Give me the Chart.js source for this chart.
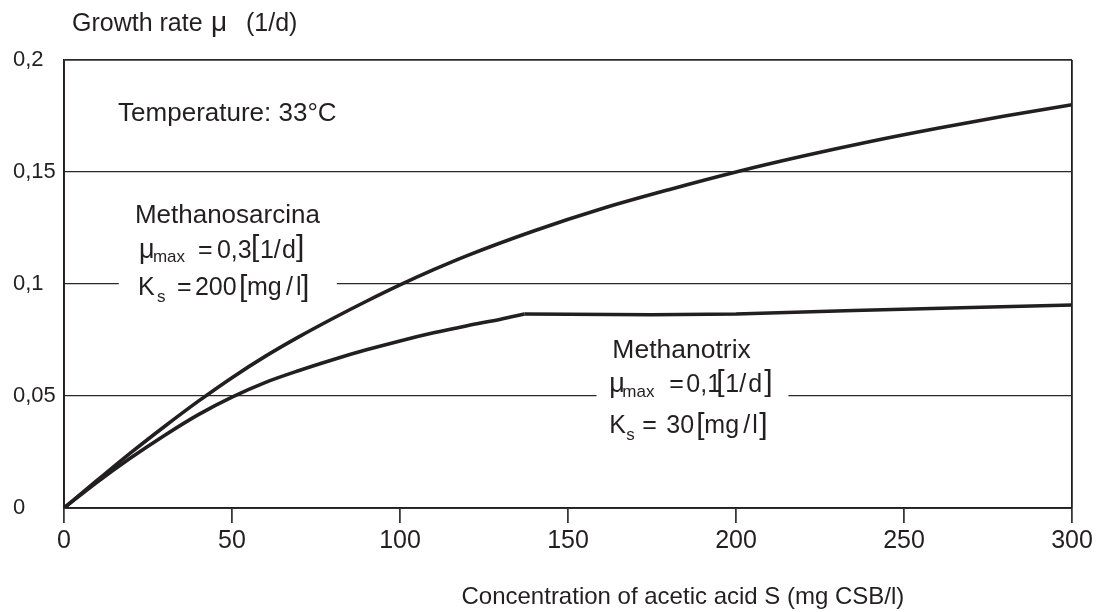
<!DOCTYPE html>
<html>
<head>
<meta charset="utf-8">
<script src="https://cdn.jsdelivr.net/npm/chart.js@4.4.1/dist/chart.umd.min.js"></script>
<style>
  html, body { margin: 0; padding: 0; background: #ffffff; }
  #wrap { width: 1096px; height: 612px; position: relative; }
</style>
</head>
<body>
<div id="wrap"><canvas id="growth"></canvas></div>
<script>
// Substrate concentration S (mg CSB/l) and growth rate mu (1/d)
const sarcinaS  = [0, 10, 20, 30, 40, 50, 60, 70, 80, 90, 100, 110, 120, 140, 160, 180, 200, 220, 240, 260, 280, 300];
const sarcinaMu = [0, 0.0125, 0.0248, 0.0365, 0.0477, 0.0582, 0.0678, 0.0765, 0.0846, 0.0923, 0.0996,
                   0.1064, 0.1127, 0.1238, 0.1336, 0.1421, 0.1500, 0.1571, 0.1636, 0.1695, 0.1750, 0.1800];

const trixS  = [0, 10, 20, 30, 40, 50, 60, 70, 80, 90, 100, 110, 120, 130, 137, 150, 175, 200, 235, 270, 300];
const trixMu = [0, 0.0117, 0.0225, 0.0325, 0.0417, 0.0495, 0.0561, 0.0614, 0.0662, 0.0706, 0.0746,
                0.0782, 0.0814, 0.0843, 0.0866, 0.0865, 0.0863, 0.0866, 0.0882, 0.0895, 0.0906];
// the Methanotrix curve bends sharply onto its plateau here
const trixKneeS = 137;

const xTicks = [0, 50, 100, 150, 200, 250, 300];
const yTicks = [0, 0.05, 0.1, 0.15, 0.2];
const yTickLabels = ['0', '0,05', '0,1', '0,15', '0,2'];

const INK = '#231f20';
const FONT = '"Liberation Sans", Arial, Helvetica, sans-serif';

function pairs(xs, ys) { return xs.map((x, i) => ({ x: x, y: ys[i] })); }
const knee = trixS.indexOf(trixKneeS);
const trixRise = pairs(trixS.slice(0, knee + 1), trixMu.slice(0, knee + 1));
const trixPlateau = pairs(trixS.slice(knee), trixMu.slice(knee));

// Text runs: [text, dx, dy, size]
function drawRuns(ctx, x0, y0, runs) {
  for (const r of runs) {
    ctx.font = r[3] + 'px ' + FONT;
    ctx.fillText(r[0], x0 + r[1], y0 + r[2]);
  }
}

const labelsPlugin = {
  id: 'labels',
  beforeDatasetsDraw(chart) {
    const ctx = chart.ctx;
    const xs = chart.scales.x, ys = chart.scales.y;
    ctx.save();
    ctx.textAlign = 'left';
    ctx.textBaseline = 'alphabetic';

    // background panels behind the parameter blocks
    ctx.fillStyle = '#ffffff';
    const aL = xs.getPixelForValue(16.3), aR = xs.getPixelForValue(81.2);
    const aT = ys.getPixelForValue(0.139), aB = ys.getPixelForValue(0.088);
    ctx.fillRect(aL, aT, aR - aL, aB - aT);
    const bL = xs.getPixelForValue(158.5), bR = xs.getPixelForValue(215.6);
    const bT = ys.getPixelForValue(0.0785), bB = ys.getPixelForValue(0.0267);
    ctx.fillRect(bL, bT, bR - bL, bB - bT);

    ctx.fillStyle = INK;
    // temperature note
    ctx.font = '26px ' + FONT;
    ctx.fillText('Temperature: 33°C', xs.getPixelForValue(16.1), ys.getPixelForValue(0.1728));

    // Methanosarcina
    const ax = xs.getPixelForValue(21.1), ay = ys.getPixelForValue(0.1272);
    drawRuns(ctx, ax, ay, [
      ['Methanosarcina', 0, 0, 26],
      ['μ', 4, 35, 27], ['max', 18, 39, 17], ['=', 63, 35, 25], ['0,3', 82, 35, 25],
      ['[', 116, 33, 30], ['1/', 125, 35, 25], ['d', 147, 35, 25], [']', 161, 33, 30],
      ['K', 3, 72, 25], ['s', 22, 79, 17], ['=', 42, 72, 25], ['200', 60, 72, 25],
      ['[', 104, 73, 30], ['mg', 112, 72, 25], ['/', 151, 72, 25], ['l', 161, 72, 25], [']', 166, 73, 30]
    ]);

    // Methanotrix
    const bx = xs.getPixelForValue(163.2), by = ys.getPixelForValue(0.0668);
    drawRuns(ctx, bx, by, [
      ['Methanotrix', 0, 0, 26.5],
      ['μ', -3, 34, 27], ['max', 10, 39, 17], ['=', 57, 34, 25], ['0,1', 74, 34, 25],
      ['[', 104, 33, 30], ['1/', 113, 34, 25], ['d', 136, 34, 25], [']', 152, 33, 30],
      ['K', -3, 75, 25], ['s', 14, 82, 17], ['=', 30, 75, 25], ['30', 54, 75, 25],
      ['[', 84, 76, 30], ['mg', 92, 75, 25], ['/', 131, 75, 25], ['l', 140, 75, 25], [']', 147, 76, 30]
    ]);

    // axis titles
    ctx.font = '25px ' + FONT;
    ctx.fillText('Growth rate', 72, 31);
    ctx.fillText('(1/d)', 246, 31);
    ctx.font = '28px ' + FONT;
    ctx.fillText('μ', 211, 31);
    ctx.font = '24px ' + FONT;
    ctx.fillText('Concentration of acetic acid S (mg CSB/l)', xs.getPixelForValue(118.3), 604);
    ctx.restore();
  }
};

new Chart(document.getElementById('growth'), {
  type: 'line',
  data: {
    datasets: [
      {
        label: 'Methanosarcina',
        data: pairs(sarcinaS, sarcinaMu),
        borderColor: INK, borderWidth: 3.6, pointRadius: 0,
        cubicInterpolationMode: 'monotone', fill: false
      },
      {
        label: 'Methanotrix',
        data: trixRise,
        borderColor: INK, borderWidth: 3.6, pointRadius: 0,
        cubicInterpolationMode: 'monotone', fill: false
      },
      {
        label: 'Methanotrix (plateau)',
        data: trixPlateau,
        borderColor: INK, borderWidth: 3.6, pointRadius: 0,
        tension: 0, borderJoinStyle: 'round', fill: false
      }
    ]
  },
  options: {
    responsive: true,
    maintainAspectRatio: false,
    animation: false,
    events: [],
    layout: { padding: { left: 13, right: 24, top: 60, bottom: 0 } },
    plugins: { legend: { display: false }, tooltip: { enabled: false }, title: { display: false } },
    scales: {
      x: {
        type: 'linear', min: 0, max: 300,
        afterBuildTicks: (s) => { s.ticks = xTicks.map(v => ({ value: v })); },
        afterFit: (s) => { s.height = 104; },
        ticks: { color: INK, font: { family: FONT, size: 25 }, padding: 3, maxRotation: 0,
                 callback: (v) => String(v) },
        grid: {
          drawOnChartArea: true, drawTicks: true, tickLength: 15,
          color: (c) => (c.tick && (c.tick.value === 0 || c.tick.value === 300)) ? INK : 'rgba(0,0,0,0)',
          lineWidth: 1.8, tickColor: INK, tickWidth: 1.6
        },
        border: { display: true, color: INK, width: 1.8 }
      },
      y: {
        type: 'linear', min: 0, max: 0.2,
        afterBuildTicks: (s) => { s.ticks = yTicks.map(v => ({ value: v })); },
        afterFit: (s) => { s.width = 51; },
        ticks: { color: INK, font: { family: FONT, size: 22 }, crossAlign: 'far',
                 callback: (v) => yTickLabels[Math.round(v / 0.05)] },
        grid: {
          drawTicks: false, color: '#2b2829',
          lineWidth: (c) => (c.tick && (c.tick.value === 0 || c.tick.value === 0.2)) ? 1.8 : 1.3
        },
        border: { display: true, color: INK, width: 1.8 }
      }
    }
  },
  plugins: [labelsPlugin]
});
</script>
</body>
</html>
